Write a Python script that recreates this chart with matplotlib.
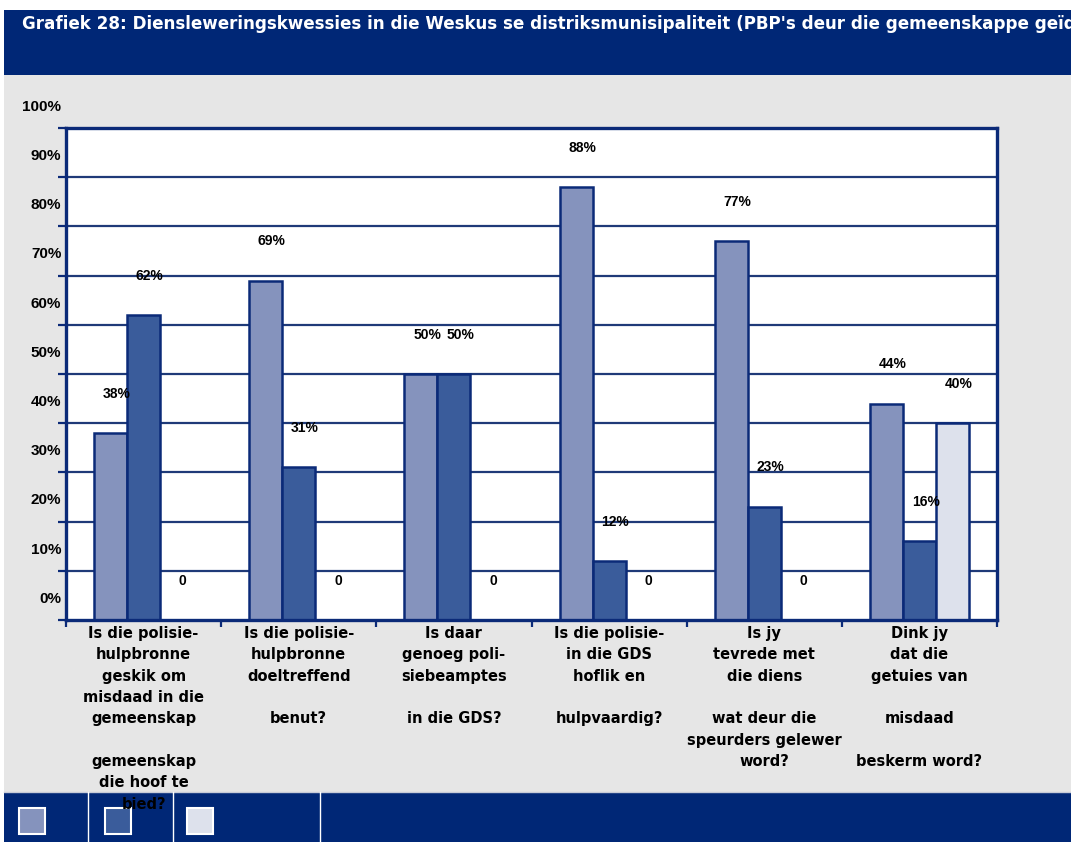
"""
Grafiek 28 - diensleweringskwessies, gegroepeerde staafgrafiek.
"""

import matplotlib
matplotlib.use("Agg")
import matplotlib.pyplot as plt
from matplotlib.patches import Rectangle
import numpy as np

# Data
categories = [
    "Is die polisie-\nhulpbronne\ngeskik om\nmisdaad in die\ngemeenskap\n\ngemeenskap\ndie hoof te\nbied?",
    "Is die polisie-\nhulpbronne\ndoeltreffend\n\nbenut?",
    "Is daar\ngenoeg poli-\nsiebeamptes\n\nin die GDS?",
    "Is die polisie-\nin die GDS\nhoflik en\n\nhulpvaardig?",
    "Is jy\ntevrede met\ndie diens\n\nwat deur die\nspeurders gelewer\nword?",
    "Dink jy\ndat die\ngetuies van\n\nmisdaad\n\nbeskerm word?",
]
series_1 = [38, 69, 50, 88, 77, 44]
series_2 = [62, 31, 50, 12, 23, 16]
series_3 = [0, 0, 0, 0, 0, 40]
y_ticks = [0, 10, 20, 30, 40, 50, 60, 70, 80, 90, 100]
title = ("Grafiek 28: Diensleweringskwessies in die Weskus se distriksmunisipaliteit "
         "(PBP's deur die gemeenskappe geïdentifiseer)")

NAVY = "#002776"
EDGE = "#0B2A78"
GRID = "#1F3A78"
BG = "#E6E6E6"
COLORS = ["#8593BD", "#3A5C9B", "#DDE1EC"]

W, H = 1071, 842
fig = plt.figure(figsize=(W / 100, H / 100), dpi=100, facecolor="white")


def fx(px):
    return px / W


def fy(py):
    return 1 - py / H


# Background panels (below the axes)
fig.patches.append(Rectangle((fx(4), 0), 1 - fx(4), fy(10), transform=fig.transFigure,
                             facecolor=BG, edgecolor="none", zorder=-3))
fig.patches.append(Rectangle((fx(4), fy(75)), 1 - fx(4), fy(10) - fy(75),
                             transform=fig.transFigure, facecolor=NAVY,
                             edgecolor="none", zorder=-2))
fig.patches.append(Rectangle((fx(4), 0), 1 - fx(4), fy(792), transform=fig.transFigure,
                             facecolor=NAVY, edgecolor="none", zorder=-2))
fig.lines.append(plt.Line2D([fx(4), 1], [fy(792), fy(792)], transform=fig.transFigure,
                            color="#C8CCD8", linewidth=1, zorder=-1))
for sx in [88, 173, 320]:
    fig.lines.append(plt.Line2D([fx(sx), fx(sx)], [0, fy(792)], transform=fig.transFigure,
                                color="white", linewidth=1, zorder=-1))

# Legend squares (no text)
for lx, col in zip([19, 105, 187], COLORS):
    fig.patches.append(Rectangle((fx(lx), fy(834)), fx(26), 26 / H,
                                 transform=fig.transFigure, facecolor=col,
                                 edgecolor="white", linewidth=1.5, zorder=-1))

fig.text(fx(22), fy(24), title, color="white", fontsize=12.1, fontweight="bold",
         family="DejaVu Sans", ha="left", va="center", zorder=4)

# Plot area
ax = fig.add_axes([fx(66), fy(620), fx(997) - fx(66), fy(128) - fy(620)])
ax.set_zorder(5)
ax.set_facecolor("white")
ax.set_xlim(-0.5, len(categories) - 0.5)
ax.set_ylim(0, 100)

for yv in y_ticks[1:-1]:
    ax.axhline(yv, color=GRID, linewidth=1.6, zorder=1)

x = np.arange(len(categories))
bw = 0.213
for k, (vals, col) in enumerate(zip([series_1, series_2, series_3], COLORS)):
    pos = x + (k - 1) * bw
    ax.bar(pos, vals, width=bw, color=col, edgecolor=EDGE, linewidth=1.8, zorder=2)
    for px_, v in zip(pos, vals):
        lab = "0" if v == 0 else f"{v}%"
        ax.text(px_ + 0.04, v + 8, lab, ha="center", va="center", fontsize=10,
                fontweight="bold", family="Liberation Sans", color="black",
                zorder=5, clip_on=False)

for sp in ax.spines.values():
    sp.set_color(EDGE)
    sp.set_linewidth(2.4)

ax.set_yticks(y_ticks)
ax.set_yticklabels([])
ax.tick_params(axis="y", direction="out", length=6, width=1.6, color=EDGE)
for yv in y_ticks:
    ax.text(-0.005, yv + 4.3, f"{yv}%", transform=ax.get_yaxis_transform(),
            ha="right", va="center", fontsize=11, fontweight="bold",
            family="Liberation Sans", clip_on=False)

ax.set_xticks(np.arange(len(categories) + 1) - 0.5)
ax.set_xticklabels([])
ax.tick_params(axis="x", direction="out", length=5, width=1.6, color=EDGE)

for xi, lab in zip(x, categories):
    ax.text(xi, -0.012, lab, transform=ax.get_xaxis_transform(), ha="center",
            va="top", fontsize=10.5, fontweight="bold", family="DejaVu Sans",
            linespacing=1.53, clip_on=False, zorder=10)

fig.savefig("out.png", dpi=100, facecolor=fig.get_facecolor())
